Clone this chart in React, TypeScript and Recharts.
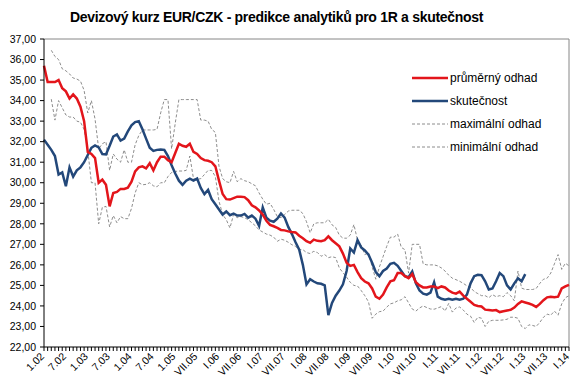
import React from 'react';
import { LineChart, Line, XAxis, YAxis, ReferenceLine, Legend } from 'recharts';

// Monthly categories, 1/2002 .. 1/2014
const months: string[] = Array.from({ length: 145 }, (_, i) => `${2002 + Math.floor(i / 12)}-${String((i % 12) + 1).padStart(2, '0')}`);

// Tick labels shown every 6 months
const xTickLabels = [
  '1.02', '7.02', '1.03', '7.03', '1.04', '7.04', '1.05', 'VII.05', 'I.06', 'VII.06', 'I.07', 'VII.07',
  'I.08', 'VII.08', 'I.09', 'VII.09', 'I.10', 'VII.10', 'I.11', 'VII.11', 'I.12', 'VII.12', 'I.13', 'VII.13', 'I.14',
];

const yTicks = [22, 23, 24, 25, 26, 27, 28, 29, 30, 31, 32, 33, 34, 35, 36, 37];

// průměrný odhad
const prumerny = [
  35.7, 34.9, 34.9, 34.9, 35.0, 34.6, 34.45, 34.1, 34.3, 34.1,
  33.7, 33.0, 31.5, 31.4, 31.2, 30.0, 30.15, 29.9, 28.85, 29.5,
  29.55, 29.7, 29.7, 29.76, 30.05, 30.55, 30.75, 30.8, 30.7, 30.95,
  30.6, 31.0, 31.27, 31.27, 31.1, 31.0, 31.45, 31.9, 31.8, 31.75,
  31.9, 31.5, 31.4, 31.2, 31.1, 31.07, 31.0, 30.8, 30.1, 29.45,
  29.2, 29.18, 29.25, 29.32, 29.32, 29.3, 29.15, 28.9, 28.8, 28.65,
  28.45, 28.15, 27.95, 27.88, 27.8, 27.7, 27.68, 27.63, 27.6, 27.58,
  27.42, 27.3, 27.15, 27.07, 27.23, 27.17, 27.15, 27.2, 27.39, 27.2,
  27.05, 26.9, 26.55, 26.1, 25.95, 26.0, 25.65, 25.35, 25.19, 25.1,
  24.85, 24.45, 24.35, 24.55, 24.9, 25.2, 25.25, 25.6, 25.6, 25.45,
  25.35, 25.55, 25.15, 25.0, 24.9, 24.9, 24.95, 24.95, 24.87, 24.95,
  24.9, 24.75, 24.65, 24.6, 24.7, 24.5, 24.35, 24.2, 24.05, 24.0,
  23.97, 23.82, 23.8, 23.78, 23.8, 23.7, 23.74, 23.78, 23.81, 23.92,
  24.1, 24.22, 24.17, 24.12, 24.05, 23.95, 24.1, 24.28, 24.42, 24.45,
  24.42, 24.45, 24.85, 24.95, 25.03,
];

// skutečnost
const skutecnost = [
  32.1, 31.85, 31.6, 31.3, 30.4, 30.5, 29.83, 30.75, 30.3, 30.6,
  30.75, 31.0, 31.35, 31.7, 31.82, 31.72, 31.4, 31.38, 31.8, 32.25,
  32.35, 32.05, 32.15, 32.5, 32.8, 32.95, 33.0, 32.6, 32.15, 31.7,
  31.55, 31.6, 31.62, 31.6, 31.3, 30.85, 30.45, 30.1, 29.9, 30.1,
  30.2, 30.1, 30.2, 29.75, 29.45, 29.65, 29.2, 28.95, 28.7, 28.45,
  28.6, 28.42, 28.5, 28.4, 28.4, 28.48, 28.3, 28.4, 28.25, 27.9,
  28.8, 28.3, 28.15, 28.1, 28.25, 28.5, 28.3, 27.85, 27.5, 27.1,
  26.74, 26.0, 25.05, 25.3, 25.19, 25.1, 25.08, 25.0, 23.55, 24.15,
  24.5, 24.75, 25.05, 25.7, 26.8, 26.6, 27.2, 26.85, 26.7, 26.5,
  26.1, 25.65, 25.45, 25.7, 25.82, 26.05, 26.1, 25.95, 25.7, 25.45,
  25.4, 25.68, 25.1, 24.75, 24.6, 24.55, 24.65, 25.15, 24.45, 24.35,
  24.3, 24.35, 24.3, 24.35, 24.3, 24.35, 24.55, 25.1, 25.45, 25.52,
  25.5, 25.2, 24.8, 24.85, 25.2, 25.6, 25.45, 25.0, 24.8, 25.1,
  25.35, 25.2, 25.55,
];

// maximální odhad
const maximalni: (number | null)[] = [
  null, null, 36.45, 36.15, 36.0, 35.55, 35.45, 35.3, 35.1, 35.05,
  34.95, 34.5, 33.4, 34.0, 33.1, 31.65, 31.9, 32.0, 30.6, 31.4,
  31.15, 31.0, 31.6, 31.0, 31.0, 31.85, 32.3, 32.57, 32.57, 32.57,
  32.57, 32.6, 33.4, 34.05, 34.05, 31.65, 32.9, 34.05, 34.05, 34.05,
  34.05, 34.05, 34.05, 33.05, 33.05, 33.0, 32.6, 32.45, 30.8, 30.2,
  30.05, 30.0, 30.55, 30.05, 30.2, 30.1, 30.05, 29.95, 29.85, 29.5,
  29.2, 28.95, 29.0, 28.7, 28.35, 28.3, 28.45, 28.62, 28.66, 28.66,
  28.66, 28.5, 28.1, 27.56, 28.0, 28.05, 28.05, 28.05, 28.22, 27.95,
  27.82, 27.45, 27.3, 27.3, 27.45, 27.96, 27.2, 26.95, 26.5, 26.6,
  25.9, 25.3, 25.9, 26.4, 26.9, 27.35, 27.35, 27.5, 26.85, 26.74,
  25.6, 27.0, 27.0, 27.0, 26.05, 26.0, 26.0, 26.0, 25.95, 25.85,
  25.7, 25.5, 25.35, 25.28, 25.2, 25.1, 24.98, 24.9, 24.7, 24.6,
  24.5, 24.5, 24.4, 24.55, 24.45, 24.5, 24.45, 24.65, 24.5, 24.25,
  25.7, 24.87, 24.8, 24.8, 24.8, 24.85, 25.1, 25.3, 25.35, 25.6,
  26.05, 26.5, 25.78, 26.08, 25.95,
];

// minimální odhad
const minimalni: (number | null)[] = [
  null, null, 34.07, 33.05, 34.0, 33.65, 33.3, 33.2, 33.2, 33.0,
  32.95, 32.6, 31.6, 30.0, 30.0, 28.0, 28.8, 28.85, 27.85, 28.4,
  28.05, 28.35, 28.25, 28.25, 28.75, 29.5, 30.0, 29.9, 29.92, 30.0,
  29.85, 29.8, 30.0, 30.0, 30.3, 30.5, 30.55, 30.57, 30.57, 30.6,
  31.3, 30.2, 30.16, 30.2, 30.4, 30.6, 30.6, 30.3, 29.1, 28.45,
  28.2, 27.8, 28.45, 28.3, 28.35, 28.3, 28.2, 28.05, 27.9, 27.7,
  27.6, 27.5, 27.45, 27.35, 27.15, 27.25, 27.2, 27.1, 26.98, 26.9,
  26.74, 26.74, 26.6, 26.55, 26.66, 26.6, 26.42, 26.5, 26.35, 26.4,
  26.35, 25.85, 25.62, 25.4, 25.15, 25.0, 24.97, 24.75, 24.5, 24.2,
  23.4, 23.6, 23.72, 23.75, 23.94, 24.1, 24.15, 24.25, 24.3, 24.45,
  24.15, 23.85, 23.75, 23.9, 24.0, 23.92, 23.85, 23.84, 23.9, 23.97,
  23.75, 24.12, 23.7, 23.9, 23.95, 23.8, 23.6, 23.5, 23.2, 23.45,
  23.4, 23.0, 23.25, 23.3, 23.3, 23.3, 23.32, 23.35, 23.45, 23.45,
  23.4, 23.0, 22.9, 23.08, 23.05, 23.0, 23.2, 23.45, 23.6, 23.55,
  23.75, 23.55, 24.1, 24.4, 24.5,
];

const data = months.map((m, i) => ({
  m,
  avg: prumerny[i],
  act: i < skutecnost.length ? skutecnost[i] : null,
  max: maximalni[i],
  min: minimalni[i],
}));

const FONT = '"Liberation Sans", Arial, sans-serif';

const series = [
  { key: 'avg', name: 'průměrný odhad', color: '#e3151b', width: 2.5, dash: undefined as string | undefined },
  { key: 'act', name: 'skutečnost', color: '#23487a', width: 2.5, dash: undefined as string | undefined },
  { key: 'max', name: 'maximální odhad', color: '#808080', width: 0.9, dash: '3 2' },
  { key: 'min', name: 'minimální odhad', color: '#808080', width: 0.9, dash: '3 2' },
];

const XTick = (props: any) => {
  const { x, y, payload } = props;
  const idx = months.indexOf(payload.value);
  if (idx < 0 || idx % 6 !== 0) return <g />;
  const label = xTickLabels[idx / 6];
  const ax = x + 1;
  const ay = y + 4;
  return (
    <text
      x={ax}
      y={ay}
      transform={`rotate(-45 ${ax} ${ay})`}
      textAnchor="end"
      fontSize={10.5}
      fontFamily={FONT}
      fill="#000"
    >
      {label}
    </text>
  );
};

const renderLegend = () => (
  <div style={{ fontFamily: FONT, fontSize: 12, color: '#000' }}>
    {series.map((s) => (
      <div key={s.key} style={{ display: 'flex', alignItems: 'center', height: 22.8 }}>
        <svg width={37} height={6} style={{ display: 'block' }}>
          <line x1={0} y1={3} x2={36} y2={3} stroke={s.color} strokeWidth={s.width} strokeDasharray={s.dash} />
        </svg>
        <span style={{ marginLeft: 1, whiteSpace: 'nowrap' }}>{s.name}</span>
      </div>
    ))}
  </div>
);

export default function App() {
  return (
    <div style={{ position: 'absolute', left: 0, top: 0, width: 575, height: 386, background: '#fff' }}>
      <div
        style={{
          position: 'absolute',
          left: 0,
          top: 9,
          width: 553,
          textAlign: 'center',
          fontFamily: FONT,
          fontWeight: 'bold',
          fontSize: 14,
          letterSpacing: -0.3,
          lineHeight: '16px',
          color: '#000',
        }}
      >
        Devizový kurz EUR/CZK - predikce analytiků pro 1R a skutečnost
      </div>
      <LineChart width={575} height={386} data={data} margin={{ top: 39, right: 6, bottom: 0, left: 0 }}>
        <XAxis
          dataKey="m"
          type="category"
          scale="point"
          interval={0}
          padding={{ left: 0, right: 0 }}
          height={39}
          tickSize={4}
          tickMargin={2}
          axisLine={{ stroke: '#000' }}
          tickLine={{ stroke: '#000' }}
          tick={<XTick />}
        />
        <YAxis
          domain={[22, 37]}
          ticks={yTicks}
          interval={0}
          width={44}
          tickSize={4}
          tickMargin={4}
          axisLine={{ stroke: '#000' }}
          tickLine={{ stroke: '#000' }}
          tickFormatter={(v: number) => v.toFixed(2).replace('.', ',')}
          tick={{ fontSize: 10.5, fontFamily: FONT, fill: '#000' }}
        />
        <ReferenceLine y={37} stroke="#868686" strokeWidth={1} />
        <ReferenceLine x={months[months.length - 1]} stroke="#868686" strokeWidth={1} />
        {series
          .slice()
          .reverse()
          .map((s) => (
            <Line
              key={s.key}
              dataKey={s.key}
              name={s.name}
              type="linear"
              stroke={s.color}
              strokeWidth={s.width}
              strokeDasharray={s.dash}
              dot={false}
              activeDot={false}
              isAnimationActive={false}
            />
          ))}
        <Legend
          layout="horizontal"
          verticalAlign="middle"
          align="center"
          content={renderLegend}
          wrapperStyle={{ position: 'absolute', left: 412, top: 67, width: 160, height: 92 }}
        />
      </LineChart>
    </div>
  );
}
